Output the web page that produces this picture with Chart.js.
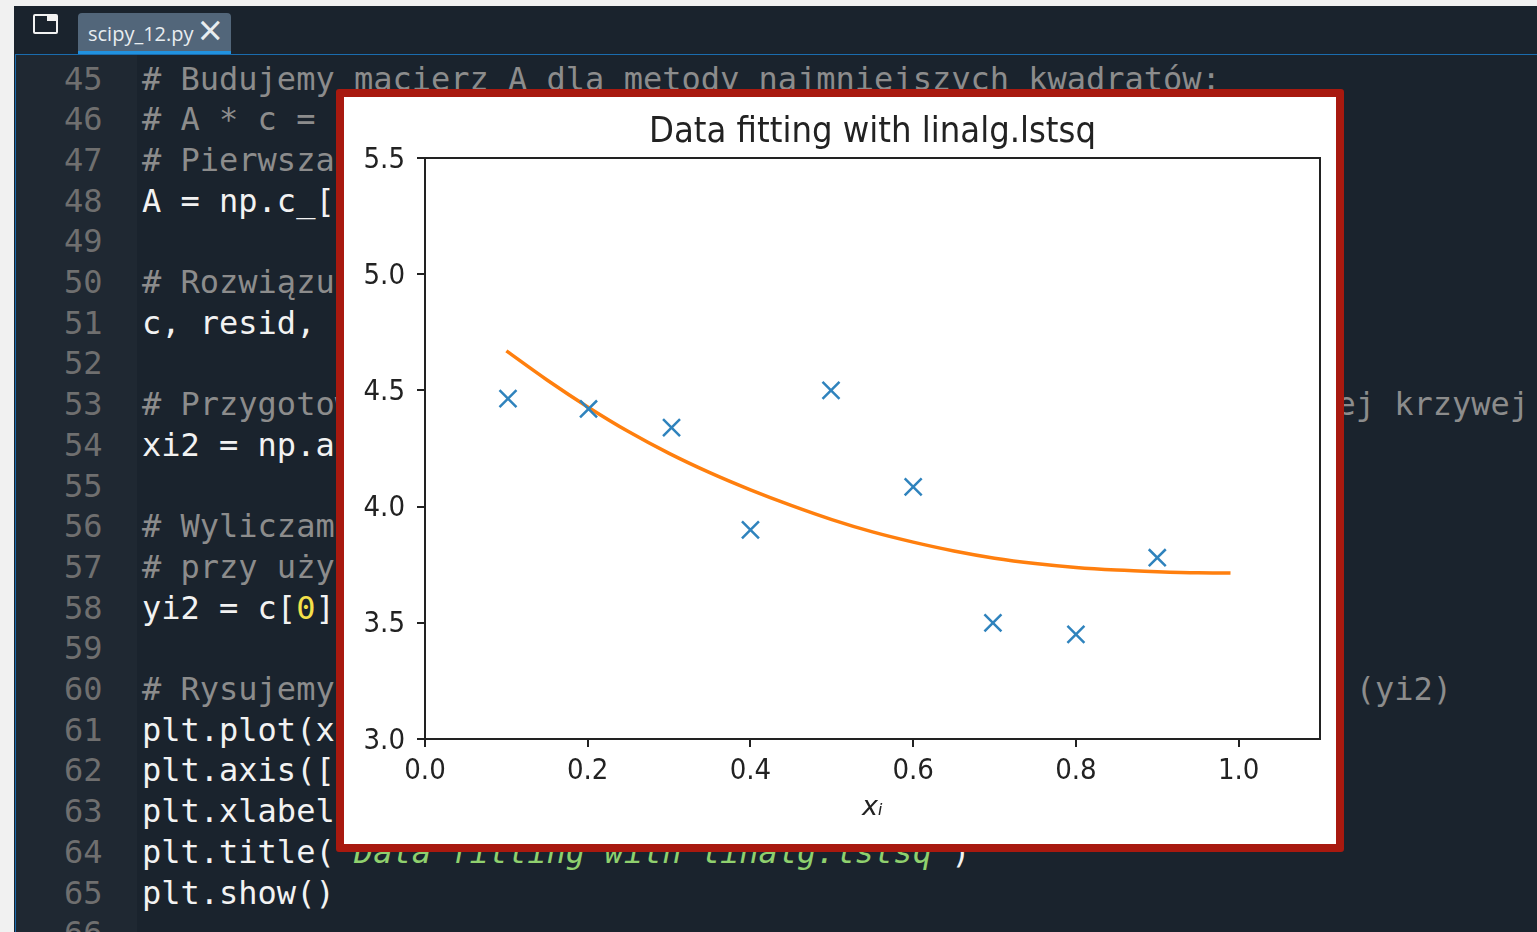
<!DOCTYPE html>
<html>
<head>
<meta charset="utf-8">
<title>scipy_12.py</title>
<script src="https://cdn.jsdelivr.net/npm/chart.js@4"></script>
<style>
html, body { margin: 0; height: 100%; background: #f1f1f1; overflow: hidden; }
#editor { position: absolute; left: 14px; top: 6px; width: 1523px; height: 926px; background: #1a232d; overflow: hidden; }
#gutter { position: absolute; left: 2px; top: 49px; width: 121px; height: 877px; background: #1f2832; }
#topline { position: absolute; left: 1px; top: 48px; width: 1522px; height: 1px; background: #1a6cae; }
#leftline { position: absolute; left: 1px; top: 48px; width: 1px; height: 878px; background: #1a6cae; }
#tab { position: absolute; left: 64px; top: 7px; width: 153px; height: 41px; background: #52667a; border-radius: 4px 4px 0 0; border-bottom: 3px solid #2192e0; box-sizing: border-box; color: #e8edf0; font: 20px "Open Sans", sans-serif; line-height: 41px; padding-left: 10px; }
#tab span { position: absolute; left: 120px; top: -4px; font-size: 43px; }
#winicon { position: absolute; left: 19px; top: 8px; width: 21px; height: 16px; border: 2px solid #f2f2f2; border-radius: 2px; background: linear-gradient(to left, #f2f2f2 9px, transparent 9px) top/100% 5px no-repeat; }
.row { position: absolute; font: 32px/40px "DejaVu Sans Mono", monospace; white-space: pre; color: #8c8c8c; }
.num { left: 50px; color: #6f6f6f; }
.code { left: 128px; }
.w { color: #f2f2f2; }
.g { color: #8fd06e; font-style: italic; }
#card { position: absolute; left: 336px; top: 89px; width: 992px; height: 747px; border: 8px solid #a8190f; border-radius: 3px; background: #fff; }
#card canvas { display: block; }
</style>
</head>
<body>
<div id="editor">
  <div id="gutter"></div>
  <div id="topline"></div>
  <div id="leftline"></div>
  <div id="winicon"></div>
  <div id="tab">scipy_12.py<span>&#215;</span></div>
</div>
<div id="card"><canvas id="fit" width="992" height="747"></canvas></div>
<script>
// measured points
var xi = [0.102, 0.201, 0.303, 0.4, 0.499, 0.6, 0.698, 0.8, 0.9];
var yi = [4.465, 4.42, 4.34, 3.90, 4.50, 4.085, 3.50, 3.45, 3.78];

// fitted curve
var xi2 = [0.1, 0.15, 0.2, 0.25, 0.3, 0.35, 0.4, 0.45, 0.5, 0.55, 0.6, 0.65, 0.7, 0.75, 0.8, 0.85, 0.9, 0.95, 0.99];
var yi2 = [4.67, 4.545, 4.429, 4.323, 4.229, 4.146, 4.072, 4.005, 3.944, 3.891, 3.847, 3.809, 3.778, 3.755, 3.738, 3.727, 3.72, 3.715, 3.714];

var xTicks = [0.0, 0.2, 0.4, 0.6, 0.8, 1.0];
var yTicks = [3.0, 3.5, 4.0, 4.5, 5.0, 5.5];

// editor lines behind the plot, [line number, class, text]
var codeLines = [
    [45, '', '# Budujemy macierz A dla metody najmniejszych kwadratów:'],
    [46, '', '# A * c ='],
    [47, '', '# Pierwsza'],
    [48, 'w', 'A = np.c_['],
    [49, '', ''],
    [50, '', '# Rozwiązu'],
    [51, 'w', 'c, resid,'],
    [52, '', ''],
    [53, '', '# Przygotow                                                   ej krzywej'],
    [54, 'w', 'xi2 = np.a'],
    [55, '', ''],
    [56, '', '# Wyliczam'],
    [57, '', '# przy uży'],
    [58, 'w', 'yi2 = c[<b style="color:#f5e04a;font-weight:normal">0</b>]'],
    [59, '', ''],
    [60, '', '# Rysujemy                                                     (yi2)'],
    [61, 'w', 'plt.plot(x'],
    [62, 'w', 'plt.axis(['],
    [63, 'w', 'plt.xlabel'],
    [64, 'w', "plt.title(<span class=\"g\">'Data fitting with linalg.lstsq'</span>)"],
    [65, 'w', 'plt.show()'],
    [66, '', '']
];

var editor = document.getElementById('editor');
codeLines.forEach(function (l, n) {
    var top = 52.5 + n * 40.7;
    var num = document.createElement('div');
    num.className = 'row num';
    num.style.top = top + 'px';
    num.textContent = l[0];
    editor.appendChild(num);
    var code = document.createElement('div');
    code.className = 'row code ' + l[1];
    code.style.top = top + 'px';
    code.innerHTML = l[2];
    editor.appendChild(code);
});

var tickFont = { family: '"DejaVu Sans Condensed", "DejaVu Sans"', size: 29 };

// matplotlib style box around the axes
var frame = {
    id: 'frame',
    afterDraw: function (chart) {
        var a = chart.chartArea, ctx = chart.ctx;
        ctx.save();
        ctx.strokeStyle = '#222';
        ctx.lineWidth = 2;
        ctx.strokeRect(a.left, a.top, a.right - a.left, a.bottom - a.top);
        ctx.restore();
    }
};

var chart = new Chart(document.getElementById('fit').getContext('2d'), {
    type: 'scatter',
    data: {
        datasets: [{
            label: 'data',
            data: xi.map(function (x, i) { return { x: x, y: yi[i] }; }),
            pointStyle: 'crossRot',
            pointRadius: 12,
            pointBorderWidth: 2.5,
            borderColor: '#2f83bd',
            backgroundColor: '#2f83bd',
            showLine: false
        }, {
            label: 'fit',
            data: xi2.map(function (x, i) { return { x: x, y: yi2[i] }; }),
            showLine: true,
            pointRadius: 0,
            borderColor: '#ff7f0e',
            borderWidth: 3.5,
            cubicInterpolationMode: 'monotone'
        }]
    },
    options: {
        responsive: false,
        animation: false,
        layout: { padding: { right: 16 } },
        plugins: {
            legend: { display: false },
            tooltip: { enabled: false },
            title: {
                display: true,
                fullSize: false, // centre over the axes, not the canvas
                text: 'Data fitting with linalg.lstsq',
                color: '#222',
                font: { family: tickFont.family, size: 36, weight: 'normal' },
                padding: { top: 14, bottom: 3.8 }
            }
        },
        scales: {
            x: {
                type: 'linear',
                min: 0,
                max: 1.1,
                afterBuildTicks: function (s) { s.ticks = xTicks.map(function (v) { return { value: v }; }); },
                ticks: { color: '#222', font: tickFont, padding: 7, maxRotation: 0, callback: function (v) { return v.toFixed(1); } },
                grid: { drawOnChartArea: false, color: '#222', lineWidth: 2, tickLength: 8 },
                border: { color: '#222', width: 2 },
                title: { display: true, text: 'xᵢ', color: '#222', font: { family: '"DejaVu Sans"', size: 27, style: 'italic' }, padding: { top: 4, bottom: 20 } },
                afterFit: function (s) { s.height = 105; }
            },
            y: {
                min: 3,
                max: 5.5,
                afterBuildTicks: function (s) { s.ticks = yTicks.map(function (v) { return { value: v }; }); },
                ticks: { color: '#222', font: tickFont, padding: 12, labelOffset: 2, callback: function (v) { return v.toFixed(1); } },
                grid: { drawOnChartArea: false, color: '#222', lineWidth: 2, tickLength: 8 },
                border: { color: '#222', width: 2 },
                afterFit: function (s) { s.width = 81; }
            }
        }
    },
    plugins: [frame]
});
</script>
</body>
</html>
